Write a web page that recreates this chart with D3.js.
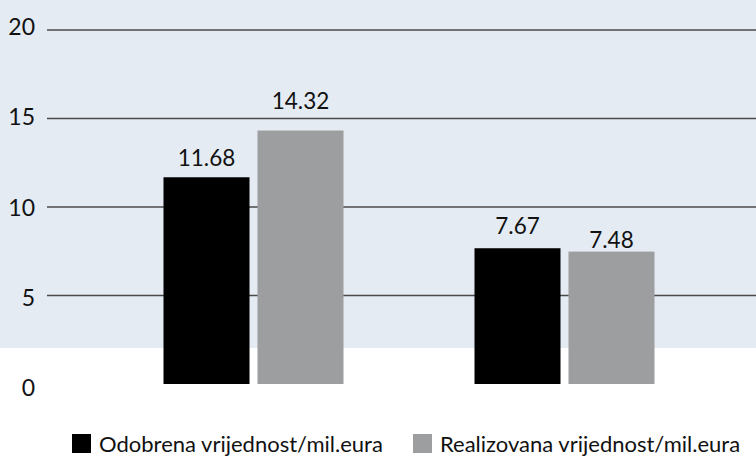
<!DOCTYPE html>
<html><head><meta charset="utf-8">
<script src="https://cdn.jsdelivr.net/npm/d3@7"></script>
<style>html,body{margin:0;padding:0;background:#fff}</style>
</head><body>
<svg id="c" width="756" height="456"></svg>
<script>
const categories = ["g1", "g2"];
const seriesNames = ["Odobrena vrijednost/mil.eura", "Realizovana vrijednost/mil.eura"];
const odobrena = [11.68, 7.67];
const realizovana = [14.32, 7.48];
const yTicks = [0, 5, 10, 15, 20];
const colors = ["#000000", "#9d9ea0"];

// label gap above each bar [category][series] (layout only)
const labelGap = [[11.5, 22], [14, 4]];

const svg = d3.select("#c");
const font = "Lato, 'Open Sans', sans-serif";

// background band
svg.append("rect").attr("x", 0).attr("y", 0).attr("width", 756).attr("height", 348).attr("fill", "#e4ebf2");

const y = d3.scaleLinear().domain([0, 20]).range([384, 30]);
const yLabel = d3.scaleLinear().domain([0, 20]).range([388, 27]);
const x0 = d3.scaleBand().domain(categories).range([98, 720]);
const x1 = d3.scaleBand().domain([0, 1]).range([0, 180]).paddingInner(0.085);

// gridlines
svg.append("g").selectAll("line").data(yTicks.filter(d => d > 0)).join("line")
  .attr("x1", 47).attr("x2", 756)
  .attr("y1", d => y(d)).attr("y2", d => y(d))
  .attr("stroke", "#4a4a4a").attr("stroke-width", 1.3);

// tick labels
svg.append("g").selectAll("text").data(yTicks).join("text")
  .attr("x", 35).attr("y", d => yLabel(d))
  .attr("dy", "0.35em").attr("text-anchor", "end")
  .attr("font-family", font).attr("font-size", 23).attr("fill", "#111")
  .text(d => d);

const data = categories.map((c, i) => ({ c, i, vals: [odobrena[i], realizovana[i]] }));

const groups = svg.append("g").selectAll("g").data(data).join("g")
  .attr("transform", d => `translate(${x0(d.c) + (x0.bandwidth() - 180) / 2},0)`);

groups.selectAll("rect").data(d => d.vals.map((v, k) => ({ v, k, i: d.i }))).join("rect")
  .attr("x", d => x1(d.k)).attr("width", x1.bandwidth())
  .attr("y", d => y(d.v)).attr("height", d => y(0) - y(d.v))
  .attr("fill", d => colors[d.k]);

groups.selectAll("text").data(d => d.vals.map((v, k) => ({ v, k, i: d.i }))).join("text")
  .attr("x", d => x1(d.k) + x1.bandwidth() / 2).attr("y", d => y(d.v) - labelGap[d.i][d.k])
  .attr("text-anchor", "middle")
  .attr("font-family", font).attr("font-size", 22.5).attr("fill", "#111")
  .text(d => d.v.toFixed(2));

// legend
const legendX = [72, 413];
const lg = svg.append("g").selectAll("g").data(seriesNames).join("g")
  .attr("transform", (d, i) => `translate(${legendX[i]},434)`);
lg.append("rect").attr("width", 19).attr("height", 19).attr("fill", (d, i) => colors[i]);
lg.append("text").attr("x", 27).attr("y", 18)
  .attr("font-family", font).attr("font-size", 22).attr("fill", "#111")
  .text(d => d);
</script>
</body></html>
